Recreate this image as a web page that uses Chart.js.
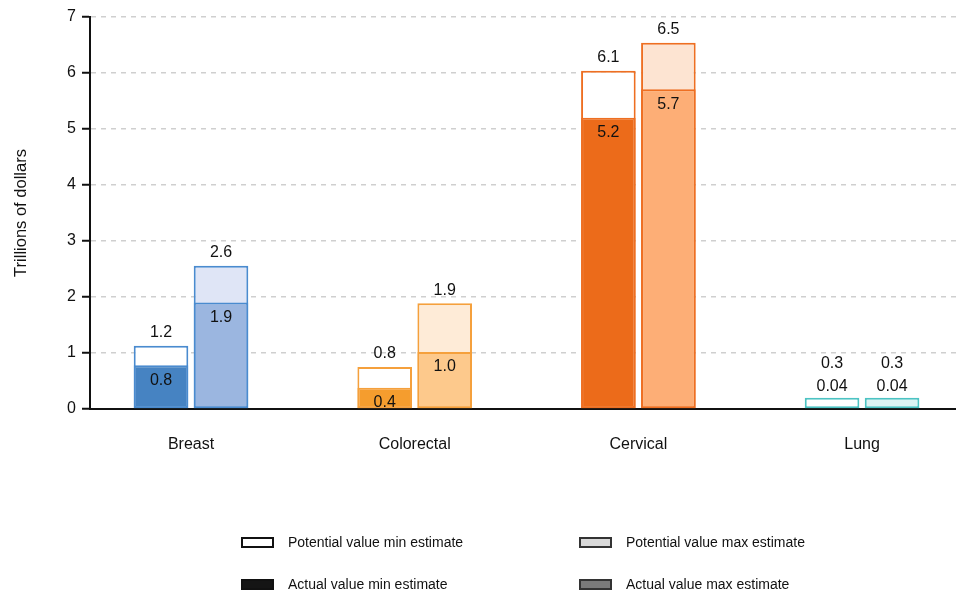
<!DOCTYPE html>
<html><head><meta charset="utf-8">
<script src="https://cdn.jsdelivr.net/npm/chart.js@4.4.1/dist/chart.umd.min.js"></script>
<style>
html,body{margin:0;padding:0;background:#fff;}
#wrap{position:relative;width:956px;height:596px;}
#c{position:absolute;left:0;top:0;}
.lg{position:absolute;height:20px;font:14px 'Liberation Sans Narrow','Arial Narrow','Liberation Sans',sans-serif;color:#111;display:flex;align-items:center;white-space:nowrap;}
.sw{width:29px;height:7px;border:2px solid #111;margin-right:14px;}
</style></head>
<body>
<div id="wrap">
<canvas id="c" width="956" height="596"></canvas>
<div class="lg" style="left:241px;top:532px"><span class="sw" style="background:#fff"></span>Potential value min estimate</div>
<div class="lg" style="left:579px;top:532px"><span class="sw" style="background:#d9d9d9;border-color:#333"></span>Potential value max estimate</div>
<div class="lg" style="left:241px;top:574px"><span class="sw" style="background:#151515"></span>Actual value min estimate</div>
<div class="lg" style="left:579px;top:574px"><span class="sw" style="background:#7a7a7a;border-color:#333"></span>Actual value max estimate</div>
</div>
<script>
const categories = ['Breast', 'Colorectal', 'Cervical', 'Lung'];
const potentialMin = [1.13, 0.75, 6.04, 0.2];
const actualMin = [0.78, 0.38, 5.2, 0.04];
const potentialMax = [2.56, 1.89, 6.54, 0.2];
const actualMax = [1.9, 1.02, 5.71, 0.04];
const potentialMinLabels = ['1.2', '0.8', '6.1', '0.3'];
const actualMinLabels = ['0.8', '0.4', '5.2', '0.04'];
const potentialMaxLabels = ['2.6', '1.9', '6.5', '0.3'];
const actualMaxLabels = ['1.9', '1.0', '5.7', '0.04'];
const yTicks = [0, 1, 2, 3, 4, 5, 6, 7];

const FONT = "'Liberation Sans Narrow','Arial Narrow','Liberation Sans',sans-serif";
const borderColors = ['#4a8bcf', '#f5a03c', '#ee6f22', '#4cc3c3'];
const actualMinColors = ['#4683c2', '#f59d2e', '#ec6b1a', '#4cc3c3'];
const actualMaxColors = ['#9bb6e0', '#fdc98c', '#fdae76', '#9fe0e0'];
const potMaxColors = ['#dfe5f6', '#feebd7', '#fde4d2', '#dcf3f3'];

const pts = arr => arr.map((v, i) => ({x: i, y: v}));
const common = {borderColor: borderColors, borderWidth: 2, borderSkipped: false, categoryPercentage: 0.5365, barPercentage: 0.91};

const labelPlugin = {
  id: 'barLabels',
  afterDatasetsDraw(chart) {
    const ctx = chart.ctx;
    const base = chart.scales.y.getPixelForValue(0);
    const pairs = [[0, 2, actualMinLabels, potentialMinLabels], [1, 3, actualMaxLabels, potentialMaxLabels]];
    ctx.save();
    ctx.font = '16px ' + FONT;
    ctx.fillStyle = '#111';
    ctx.textAlign = 'center';
    ctx.textBaseline = 'middle';
    pairs.forEach(([ai, pi, aL, pL]) => {
      const am = chart.getDatasetMeta(ai), pm = chart.getDatasetMeta(pi);
      categories.forEach((c, i) => {
        const a = am.data[i], p = pm.data[i];
        if (base - p.y < 30) {
          ctx.fillText(aL[i], p.x, p.y - 11);
          ctx.fillText(pL[i], p.x, p.y - 34);
        } else {
          ctx.fillText(pL[i], p.x, p.y - 13);
          ctx.fillText(aL[i], a.x, a.y + 15);
        }
      });
    });
    ctx.restore();
  }
};

new Chart(document.getElementById('c'), {
  type: 'bar',
  data: {
    datasets: [
      Object.assign({label: 'Actual value min estimate', stack: 'min', data: pts(actualMin), backgroundColor: actualMinColors}, common),
      Object.assign({label: 'Actual value max estimate', stack: 'max', data: pts(actualMax), backgroundColor: actualMaxColors}, common),
      Object.assign({label: 'Potential value min estimate', stack: 'min', data: pts(potentialMin), backgroundColor: '#ffffff'}, common),
      Object.assign({label: 'Potential value max estimate', stack: 'max', data: pts(potentialMax), backgroundColor: potMaxColors}, common)
    ]
  },
  options: {
    responsive: false,
    animation: false,
    layout: {padding: {top: 17, left: 0, right: 0, bottom: 0}},
    plugins: {legend: {display: false}, tooltip: {enabled: false}},
    scales: {
      x: {
        type: 'linear',
        stacked: true,
        offset: false,
        min: -0.4516,
        max: 3.42,
        afterBuildTicks: s => { s.ticks = categories.map((c, i) => ({value: i})); },
        afterFit: s => { s.height = 187; },
        grid: {display: false, offset: false},
        border: {color: '#111', width: 2},
        ticks: {callback: v => categories[v], font: {size: 16, family: FONT}, color: '#111', padding: 18, maxRotation: 0, autoSkip: false}
      },
      y: {
        stacked: false,
        min: 0,
        max: 7,
        afterBuildTicks: s => { s.ticks = yTicks.map(v => ({value: v})); },
        afterFit: s => { s.width = 90; },
        border: {color: '#111', width: 2, dash: [5, 5]},
        grid: {
          color: c => (c.tick && c.tick.value === 0) ? 'rgba(0,0,0,0)' : '#cfcfcf',
          lineWidth: 1.5,
          tickColor: '#111', tickLength: 8, tickWidth: 2, tickBorderDash: []
        },
        ticks: {font: {size: 16, family: FONT}, color: '#111', padding: 6},
        title: {display: true, text: 'Trillions of dollars', font: {size: 16.5, family: FONT}, color: '#111', padding: {top: 12, bottom: 0}}
      }
    }
  },
  plugins: [labelPlugin]
});
</script>
</body></html>
